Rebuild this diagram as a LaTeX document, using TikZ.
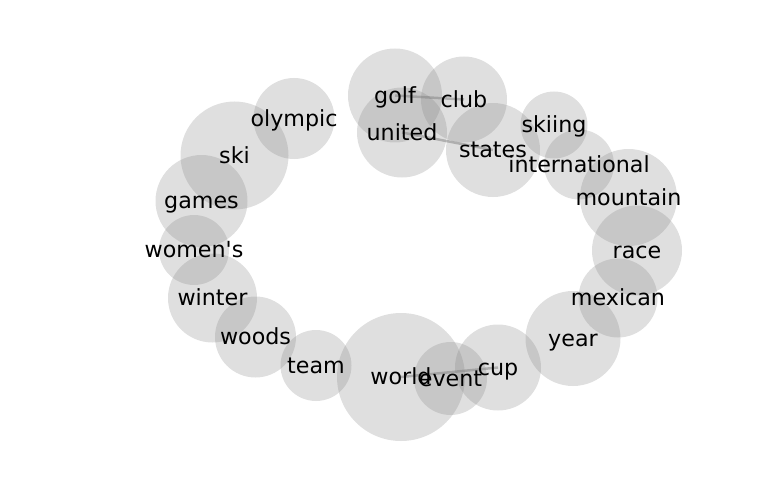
\documentclass[tikz,border=0pt]{standalone}
\usepackage{fontspec}
\setmainfont{DejaVu Sans}[Ligatures=TeXOff]
\usepackage{tikz}
\usetikzlibrary{positioning}

\tikzset{
    blob/.style={circle,fill=gray,fill opacity=0.25,inner sep=0pt},
    word/.style={font=\fontsize{22.2}{26}\selectfont,text height=0.76em,text depth=0.21em,inner sep=0pt,yshift=-5pt},
    link/.style={draw=gray,draw opacity=0.5,line width=2.5pt}
}

\begin{document}
\begin{tikzpicture}[x=1pt,y=-1pt]
    \useasboundingbox (0,0) rectangle (768,500);
    % circles
    \node[blob,minimum size=94] (golf) at (395,95.5) {};
    \node[blob,minimum size=86] (club) at (464,99.5) {};
    \node[blob,minimum size=90] (united) at (402,132.5) {};
    \node[blob,minimum size=94] (states) at (493,150) {};
    \node[blob,minimum size=67] (skiing) at (554,125) {};
    \node[blob,minimum size=70] (international) at (579,164.5) {};
    \node[blob,minimum size=97] (mountain) at (628.5,197.5) {};
    \node[blob,minimum size=90] (race) at (637,250.5) {};
    \node[blob,minimum size=79] (mexican) at (618,298) {};
    \node[blob,minimum size=95] (year) at (573,338.5) {};
    \node[blob,minimum size=86] (cup) at (498,367.5) {};
    \node[blob,minimum size=73] (event) at (450.5,378.5) {};
    \node[blob,minimum size=128] (world) at (401,377) {};
    \node[blob,minimum size=71] (team) at (316,365.5) {};
    \node[blob,minimum size=81] (woods) at (255.5,337) {};
    \node[blob,minimum size=89] (winter) at (212.5,298) {};
    \node[blob,minimum size=70] (womens) at (194,250) {};
    \node[blob,minimum size=92] (games) at (201.5,201) {};
    \node[blob,minimum size=108] (ski) at (234.5,155.5) {};
    \node[blob,minimum size=81] (olympic) at (294,118.5) {};
    % links
    \draw[link] (golf.center) -- (club.center);
    \draw[link] (united.center) -- (states.center);
    \draw[link] (world.center) -- (cup.center);
    % labels
    \node[word] at (golf) {golf};
    \node[word] at (club) {club};
    \node[word] at (united) {united};
    \node[word] at (states) {states};
    \node[word] at (skiing) {skiing};
    \node[word] at (international) {international};
    \node[word] at (mountain) {mountain};
    \node[word] at (race) {race};
    \node[word] at (mexican) {mexican};
    \node[word] at (year) {year};
    \node[word] at (cup) {cup};
    \node[word] at (event) {event};
    \node[word] at (world) {world};
    \node[word] at (team) {team};
    \node[word] at (woods) {woods};
    \node[word] at (winter) {winter};
    \node[word] at (womens) {women's};
    \node[word] at (games) {games};
    \node[word] at (ski) {ski};
    \node[word] at (olympic) {olympic};
\end{tikzpicture}
\end{document}
